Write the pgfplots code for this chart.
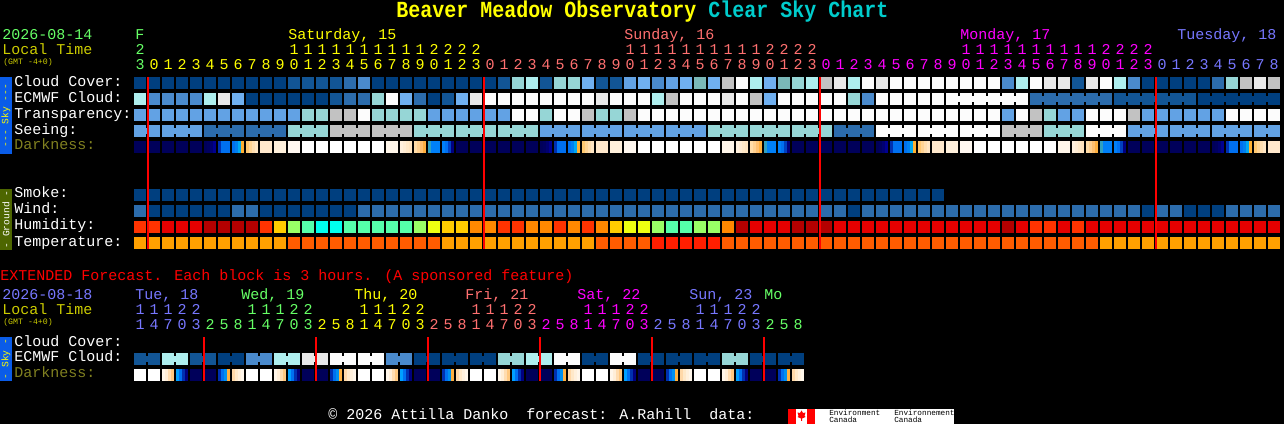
\documentclass[border=0pt]{standalone}
\usepackage{fontspec}
\usepackage{pgfplots}
\usepackage{pgfplotstable}
\pgfplotsset{compat=1.18}
\setmainfont{Liberation Mono}
\newfontfamily\mono{Liberation Mono}
% cloud, transparency, seeing levels
\definecolor{ca}{HTML}{003F7F}
\definecolor{cb}{HTML}{125595}
\definecolor{cc}{HTML}{2C6CAC}
\definecolor{cd}{HTML}{4A8ACC}
\definecolor{ce}{HTML}{62A2E4}
\definecolor{cf}{HTML}{70B0F0}
\definecolor{cg}{HTML}{96D6D6}
\definecolor{ch}{HTML}{AEEEEE}
\definecolor{ci}{HTML}{C2C2C2}
\definecolor{cj}{HTML}{E8E8E8}
\definecolor{ck}{HTML}{FCFCFC}
\definecolor{cl}{HTML}{7AB8B8}
% humidity
\definecolor{cp}{HTML}{FF3300}
\definecolor{cq}{HTML}{E60000}
\definecolor{cr}{HTML}{B40000}
\definecolor{cs}{HTML}{FF8800}
\definecolor{ct}{HTML}{FFCC00}
\definecolor{cu}{HTML}{EEFF11}
\definecolor{cv}{HTML}{99FF66}
\definecolor{cw}{HTML}{55FFAA}
\definecolor{cx}{HTML}{00FFEE}
% temperature
\definecolor{cA}{HTML}{FFA000}
\definecolor{cB}{HTML}{FF5C00}
\definecolor{cC}{HTML}{FF1E00}
% darkness
\definecolor{cN}{HTML}{00005A}
\definecolor{cP}{HTML}{FFE8CC}
\definecolor{cQ}{HTML}{FFF0DC}
\definecolor{cR}{HTML}{FFF8F0}
\definecolor{cS}{HTML}{FFFFFF}
\definecolor{cT}{HTML}{FFF6EA}
% text
\definecolor{tgreen}{HTML}{66FF66}
\definecolor{tolive}{HTML}{CCCC00}
\definecolor{tdark}{HTML}{808020}
\definecolor{tsalmon}{HTML}{FF7070}
\definecolor{tblue}{HTML}{7777FF}
\definecolor{tcyan}{HTML}{00CCCC}
\definecolor{tyellow}{HTML}{FFFF00}
\definecolor{tmag}{HTML}{FF00FF}
\definecolor{tred}{HTML}{FF0000}
\definecolor{bsky}{HTML}{0A5CE8}
\definecolor{bground}{HTML}{4D6600}

\pgfdeclareplotmark{cell}{\pgfpathrectangle{\pgfpoint{-4.5pt}{-4.5pt}}{\pgfpoint{9pt}{9pt}}\pgfusepathqfill}
\pgfdeclareplotmark{conn}{\pgfpathrectangle{\pgfpoint{-0.8pt}{-2.6pt}}{\pgfpoint{1.6pt}{5.2pt}}\pgfusepathqfill}
\pgfdeclareplotmark{strip}{\pgfpathrectangle{\pgfpoint{-1.15pt}{-4.5pt}}{\pgfpoint{2.3pt}{9pt}}\pgfusepathqfill}

\pgfplotsset{
  pixels/.style={at={(0,0)},anchor=south west,scale only axis,width=963pt,height=318pt,
    xmin=0,xmax=1284,ymin=0,ymax=424,y dir=reverse,hide axis,clip=false},
  blocks/.style={only marks,scatter,scatter src=explicit symbolic,mark=cell,
    scatter/classes={
      a={ca},b={cb},c={cc},d={cd},e={ce},f={cf},g={cg},h={ch},i={ci},j={cj},k={ck},l={cl},
      p={cp},q={cq},r={cr},s={cs},t={ct},u={cu},v={cv},w={cw},x={cx},
      A={cA},B={cB},C={cC},N={cN},P={cP},Q={cQ},R={cR},S={cS},T={cT},n={black}}},
  joins/.style={blocks,mark=conn},
  strips/.style={only marks,scatter,scatter src=explicit symbolic,mark=strip,
    scatter/@pre marker code/.code={%
      \edef\temp{\noexpand\definecolor{stripcol}{HTML}{\pgfplotspointmeta}}\temp
      \pgfscope\pgfsetfillcolor{stripcol}},
    scatter/@post marker code/.code={\endpgfscope}},
  redline/.style={no marks,draw=tred,line width=1.5pt}
}

% one line per hour
\pgfplotstableread{
x c e t s d m w h T sc ec
140 a h e e N a c p A e n
154 a d e e N a a p A n n
168 a d e e N a a q A e n
182 a d e e N a a q A e n
196 a d e e N a a q A n n
210 a h e c N a a r A c n
224 a j e c N a a r A c n
238 a f e c N a c r A n n
252 a a e c N a c r A c n
266 a a e c P a a p A c n
280 a a e c Q a a t A n n
294 b a e g R a a v B g n
308 b a g g S a a w B g n
322 b a g g S a a x B n n
336 b b i i S a a x B i n
350 c c i i S a a w B i n
364 d c k i S a c w B n n
378 a g g i S a c w B i n
392 a k g i T a c w B i n
406 a f g i N a c w B n n
420 a c g g N a c v B g n
434 a a e g N a c u B g n
448 a b e g N a c t A n n
462 a f e g N a c t A g n
476 a j e g N a c s A g n
490 a k e g N a c s A n n
504 b k e g N a c p A g n
518 g k k g N a c p A g n
532 h k k g N a c s A n n
546 b k g e N a c s A e n
560 g k k e N a c p A e n
574 g k k e N a c s A n n
588 f k i e N a c p A e n
602 b j g e P a c s B e n
616 b k g e Q a c t B n n
630 e k i e R a c u B e n
644 f k k e S a c u B e n
658 d h k e S a c v C n n
672 e i k e S a c w C e n
686 f k k e S a c w C e n
700 l k k e S a c v C n n
714 f k k g S a c v C g n
728 i j k g T a c s B g n
742 k k k g N a c r B n n
756 h i k g N a c q B g n
770 f f k g N a c q B g n
784 l k k g N a c q B n n
798 g k k g N a c r B g n
812 h k k g N a c r B g n
826 i k k g N a c r B n n
840 j k k c N a c q B c n
854 h g k c N a a q B c n
868 k d k c N a c q B n n
882 j k k k N a c q B k n
896 k k k k N a c q B k n
910 k k k k N a c q B n n
924 k k k k N a c q B k n
938 k k k k P a c q B k n
952 k k k k Q n c q B n k
966 k k k k R n c q B k k
980 k k k k S n c q B k k
994 k k k k S n c q B n k
1008 d k e i S n c r B i k
1022 h k k i S n c q B i n
1036 k c i i S n c p B n c
1050 j c g g S n c p B g c
1064 j c e g T n c q B g c
1078 b c e g N n c p B n c
1092 j c k k N n c q B k c
1106 k c k k N n c q A k n
1120 h b k k N n c q A n b
1134 d b i e N n c q A e b
1148 a b e e N n a q A e b
1162 a b e e N n c q A n b
1176 a b e e N n c q A e b
1190 a b e e N n a q A e n
1204 a a e e N n a q A n a
1218 c a e e N n a q A e a
1232 g a k e N n c q A e a
1246 i a k e N n c q A n a
1260 j a k e N n c q A e a
1274 i a k e P n c q A n n
}\hourly

% one line per 3-hour block of the extended part
\pgfplotstableread{
x e d ec
140 b S b
154 b S n
168 h N h
182 h N n
196 b N b
210 b N n
224 a N a
238 a N n
252 d S d
266 d S n
280 h N h
294 h N n
308 j N j
322 j N n
336 k N k
350 k N n
364 k S k
378 k S n
392 d N d
406 d N n
420 a N a
434 a N n
448 a N a
462 a N n
476 a S a
490 a S n
504 g N g
518 g N n
532 h N h
546 h N n
560 k N k
574 k N n
588 a S a
602 a S n
616 k N k
630 k N n
644 a N a
658 a N n
672 a N a
686 a N n
700 a S a
714 a S n
728 g N g
742 g N n
756 a N a
770 a N n
784 a N a
798 a N n
}\extended

% sunrise, sunset: strips of 3 pixels, colour as hex
\pgfplotstableread{
x c
205.5 00005A
208.5 000060
211.5 000070
214.5 000090
219.5 0030B0
222.5 0070F0
225.5 0070F0
228.5 0070F0
233.5 0070F0
236.5 0080F0
239.5 00A8F0
242.5 FFB030
247.5 FFC870
250.5 FFD494
253.5 FFDEB0
256.5 FFE6C4
}\dawn
\pgfplotstableread{
x c
401.5 FFF0DE
404.5 FFECD4
407.5 FFE8C8
410.5 FFE4C0
415.5 FFDCA8
418.5 FFD090
421.5 FFC070
424.5 FFB040
429.5 30A0C0
432.5 0080F8
435.5 0080F8
438.5 0080F8
443.5 0080F8
446.5 0070F0
449.5 0040C0
452.5 000080
}\dusk
\pgfplotstableread{
x c
163.5 FFF6EA
166.5 FFEED8
169.5 FFDCB0
172.5 FFC880
177.5 00A0FF
180.5 0070F0
183.5 0030B0
186.5 000080
219.5 0030B0
222.5 0070F0
225.5 0090F0
228.5 FFB040
233.5 FFD8A8
236.5 FFE8C8
239.5 FFF0DC
242.5 FFF6EA
}\xdark

\newcommand\txt[4]{\node[anchor=base west,inner sep=0pt,text=#3,font=\mono\fontsize{11.25}{12}\selectfont] at (#1,#2) {#4};}
\newcommand\digits[4]{\foreach \d [count=\k from #1] in {#4}{\node[anchor=base,inner sep=0pt,text=#2,font=\mono\fontsize{11.25}{12}\selectfont] at ({140+14*\k},#3) {\d};}}

\begin{document}
\begin{tikzpicture}
\useasboundingbox (0,0) rectangle (963pt,318pt);
\fill[black] (0,0) rectangle (963pt,318pt);
\begin{scope}[shift={(0,318pt)},x=.75pt,y=-.75pt]
  \fill[bsky] (0,77) rectangle (12,154);
  \fill[bground] (0,189) rectangle (12,250);
  \fill[bsky] (0,337) rectangle (12,381);
\end{scope}

\begin{axis}[pixels]
  \addplot[blocks] table[x=x,y expr=83,meta=c] {\hourly};
  \addplot[blocks] table[x=x,y expr=99,meta=e] {\hourly};
  \addplot[blocks] table[x=x,y expr=115,meta=t] {\hourly};
  \addplot[blocks] table[x=x,y expr=131,meta=s] {\hourly};
  \addplot[blocks] table[x=x,y expr=147,meta=d] {\hourly};
  \addplot[blocks] table[x=x,y expr=195,meta=m] {\hourly};
  \addplot[blocks] table[x=x,y expr=211,meta=w] {\hourly};
  \addplot[blocks] table[x=x,y expr=227,meta=h] {\hourly};
  \addplot[blocks] table[x=x,y expr=243,meta=T] {\hourly};
  \addplot[joins] table[x expr=\thisrow{x}+7,y expr=131,meta=sc] {\hourly};
  \addplot[joins] table[x expr=\thisrow{x}+7,y expr=99,meta=ec] {\hourly};
  \pgfplotsinvokeforeach{0,336,672,1008}{
    \addplot[strips] table[x expr=\thisrow{x}+#1,y expr=147,meta=c] {\dawn};
  }
  \pgfplotsinvokeforeach{0,336,672}{
    \addplot[strips] table[x expr=\thisrow{x}+#1,y expr=147,meta=c] {\dusk};
  }
  \addplot[blocks] table[x=x,y expr=359,meta=e] {\extended};
  \addplot[blocks] table[x=x,y expr=375,meta=d] {\extended};
  \addplot[joins] table[x expr=\thisrow{x}+7,y expr=359,meta=ec] {\extended};
  \pgfplotsinvokeforeach{0,112,224,336,448,560}{
    \addplot[strips] table[x expr=\thisrow{x}+#1,y expr=375,meta=c] {\xdark};
  }
\end{axis}

% midnight lines go in their own axis, marks of the first would cover them
\begin{axis}[pixels]
  \addplot[redline] coordinates {(148,77) (148,249)};
  \addplot[redline] coordinates {(484,77) (484,249)};
  \addplot[redline] coordinates {(820,77) (820,249)};
  \addplot[redline] coordinates {(1156,77) (1156,249)};
  \addplot[redline] coordinates {(204,337) (204,381)};
  \addplot[redline] coordinates {(316,337) (316,381)};
  \addplot[redline] coordinates {(428,337) (428,381)};
  \addplot[redline] coordinates {(540,337) (540,381)};
  \addplot[redline] coordinates {(652,337) (652,381)};
  \addplot[redline] coordinates {(764,337) (764,381)};
\end{axis}

\begin{scope}[shift={(0,318pt)},x=.75pt,y=-.75pt]
  % title
  \node[anchor=base west,inner sep=0pt,font=\mono\bfseries\fontsize{15}{16}\selectfont] at (396,18)
    {\scalebox{1}[1.15]{\textcolor{tyellow}{Beaver Meadow Observatory} \textcolor{tcyan}{Clear Sky Chart}}};
  % main header
  \txt{2}{40}{tgreen}{2026-08-14}
  \txt{2}{55}{tolive}{Local Time}
  \node[anchor=base west,inner sep=0pt,text=tolive,font=\mono\fontsize{6.2}{7}\selectfont] at (3,64.5) {(GMT -4+0)};
  \txt{135}{40}{tgreen}{F}
  \txt{288}{40}{tyellow}{Saturday, 15}
  \txt{624}{40}{tsalmon}{Sunday, 16}
  \txt{960}{40}{tmag}{Monday, 17}
  \txt{1177}{40}{tblue}{Tuesday, 18}
  \digits{0}{tgreen}{55}{2}
  \digits{11}{tyellow}{55}{1,1,1,1,1,1,1,1,1,1,2,2,2,2}
  \digits{35}{tsalmon}{55}{1,1,1,1,1,1,1,1,1,1,2,2,2,2}
  \digits{59}{tmag}{55}{1,1,1,1,1,1,1,1,1,1,2,2,2,2}
  \digits{0}{tgreen}{70}{3}
  \digits{1}{tyellow}{70}{0,1,2,3,4,5,6,7,8,9,0,1,2,3,4,5,6,7,8,9,0,1,2,3}
  \digits{25}{tsalmon}{70}{0,1,2,3,4,5,6,7,8,9,0,1,2,3,4,5,6,7,8,9,0,1,2,3}
  \digits{49}{tmag}{70}{0,1,2,3,4,5,6,7,8,9,0,1,2,3,4,5,6,7,8,9,0,1,2,3}
  \digits{73}{tblue}{70}{0,1,2,3,4,5,6,7,8}
  % row names
  \txt{14}{87}{white}{Cloud Cover:}
  \txt{14}{103}{white}{ECMWF Cloud:}
  \txt{14}{118.5}{white}{Transparency:}
  \txt{14}{134.5}{white}{Seeing:}
  \txt{14}{150}{tdark}{Darkness:}
  \txt{14}{198}{white}{Smoke:}
  \txt{14}{214}{white}{Wind:}
  \txt{14}{230}{white}{Humidity:}
  \txt{14}{246.5}{white}{Temperature:}
  % side bars
  \node[rotate=90,inner sep=0pt,text=tyellow,font=\mono\fontsize{7.2}{8}\selectfont] at (6,115.5) {--- Sky ---};
  \node[rotate=90,inner sep=0pt,text=white,font=\mono\fontsize{7.2}{8}\selectfont] at (6,219.5) {- Ground -};
  \node[rotate=90,inner sep=0pt,text=tyellow,font=\mono\fontsize{7.2}{8}\selectfont] at (6,359) {- Sky -};
  % extended part
  \txt{0}{281}{tred}{EXTENDED Forecast. Each block is 3 hours. (A sponsored feature)}
  \txt{2}{300}{tblue}{2026-08-18}
  \txt{2}{315}{tolive}{Local Time}
  \node[anchor=base west,inner sep=0pt,text=tolive,font=\mono\fontsize{6.2}{7}\selectfont] at (3,324.5) {(GMT -4+0)};
  \txt{135}{300}{tblue}{Tue, 18}
  \txt{241}{300}{tgreen}{Wed, 19}
  \txt{354}{300}{tyellow}{Thu, 20}
  \txt{465}{300}{tsalmon}{Fri, 21}
  \txt{577}{300}{tmag}{Sat, 22}
  \txt{689}{300}{tblue}{Sun, 23}
  \txt{764}{300}{tgreen}{Mo}
  \digits{0}{tblue}{315}{1,1,1,2,2}
  \digits{8}{tgreen}{315}{1,1,1,2,2}
  \digits{16}{tyellow}{315}{1,1,1,2,2}
  \digits{24}{tsalmon}{315}{1,1,1,2,2}
  \digits{32}{tmag}{315}{1,1,1,2,2}
  \digits{40}{tblue}{315}{1,1,1,2,2}
  \digits{0}{tblue}{330}{1,4,7,0,3}
  \digits{5}{tgreen}{330}{2,5,8,1,4,7,0,3}
  \digits{13}{tyellow}{330}{2,5,8,1,4,7,0,3}
  \digits{21}{tsalmon}{330}{2,5,8,1,4,7,0,3}
  \digits{29}{tmag}{330}{2,5,8,1,4,7,0,3}
  \digits{37}{tblue}{330}{2,5,8,1,4,7,0,3}
  \digits{45}{tgreen}{330}{2,5,8}
  \txt{14}{346.5}{white}{Cloud Cover:}
  \txt{14}{362}{white}{ECMWF Cloud:}
  \txt{14}{378}{tdark}{Darkness:}
  % footer
  \txt{328}{420}{white}{© 2026 Attilla Danko~~forecast: A.Rahill~~data:}
  \fill[white] (788,409) rectangle (954,424);
  \fill[tred] (788,409) rectangle (796,424);
  \fill[tred] (807,409) rectangle (815,424);
  \fill[tred] (801.5,410.5) -- (803,413) -- (805.5,412.5) -- (804.5,416) -- (805.5,417) -- (802,418.5) -- (802,421) -- (801,421) -- (801,418.5) -- (797.5,417) -- (798.5,416) -- (797.5,412.5) -- (800,413) -- cycle;
  \node[anchor=base west,inner sep=0pt,text=black,font=\mono\fontsize{5.8}{6}\selectfont] at (829,415.5) {Environment};
  \node[anchor=base west,inner sep=0pt,text=black,font=\mono\fontsize{5.8}{6}\selectfont] at (829,423) {Canada};
  \node[anchor=base west,inner sep=0pt,text=black,font=\mono\fontsize{5.8}{6}\selectfont] at (894,415.5) {Environnement};
  \node[anchor=base west,inner sep=0pt,text=black,font=\mono\fontsize{5.8}{6}\selectfont] at (894,423) {Canada};
\end{scope}
\end{tikzpicture}
\end{document}
